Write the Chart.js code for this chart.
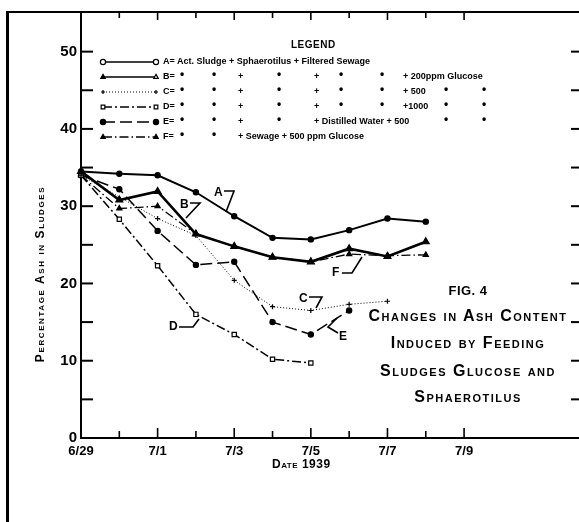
<!DOCTYPE html>
<html>
<head>
<meta charset="utf-8">
<script src="https://cdn.jsdelivr.net/npm/chart.js@4"></script>
<style>
  html, body { margin: 0; padding: 0; background: #fff; }
  #wrap { position: relative; width: 579px; height: 522px; overflow: hidden; font-family: "Liberation Sans", Arial, sans-serif; font-weight: bold; color: #000; }
  #c { position: absolute; left: 0; top: 0; }
  .frame { position: absolute; left: 6px; top: 11px; width: 600px; height: 600px; border-left: 3px solid #000; border-top: 2px solid #000; }
  .t { position: absolute; white-space: nowrap; line-height: 1; }
  .leg { font-size: 9px; }
  .dit { font-size: 12px; }
  .sc { font-variant: small-caps; }
  .fig { position: absolute; left: 360px; width: 216px; text-align: center; font-size: 16px; font-variant: small-caps; letter-spacing: 1.5px; line-height: 1; white-space: nowrap; }
  .lbl { font-size: 12px; }
  svg { position: absolute; left: 0; top: 0; }
</style>
</head>
<body>
<div id="wrap">
  <canvas id="c" width="579" height="522"></canvas>
  <div class="frame"></div>
  <svg width="579" height="522" id="ann"></svg>
</div>
<script>
// hari sejak 6/29 (0 = 6/29, 2 = 7/1, ...)
const days = [0, 1, 2, 3, 4, 5, 6, 7, 8, 9];
const dateLabels = ['6/29', '7/1', '7/3', '7/5', '7/7', '7/9'];
const yTickLabels = [0, 10, 20, 30, 40, 50];

// nilai persen abu
const ashA = [34.5, 34.2, 34.0, 31.8, 28.7, 25.9, 25.7, 26.9, 28.4, 28.0];
const ashB = [34.5, 30.8, 31.9, 26.4, 24.8, 23.4, 22.8, 24.5, 23.5, 25.4];
const ashC = [34.0, null, 28.4, 26.2, 20.4, 17.0, 16.5, 17.3, 17.7, null];
const ashD = [34.0, 28.3, 22.3, 16.0, 13.4, 10.2, 9.7, null, null, null];
const ashE = [34.0, 32.2, 26.8, 22.4, 22.8, 15.0, 13.4, 16.5, null, null];
const ashF = [34.0, 29.7, 30.0, 26.4, 24.8, 23.4, 22.8, 23.8, 23.6, 23.7];

function toPoints(vals) {
  return vals.map((v, i) => ({ x: days[i], y: v }));
}

const black = '#000';
const datasets = [
  { label: 'A', data: toPoints(ashA), borderWidth: 2, borderDash: [], pointStyle: 'circle', pointRadius: 2.6, pointBackgroundColor: black, legendOpen: true },
  { label: 'B', data: toPoints(ashB), borderWidth: 2.6, borderDash: [], pointStyle: 'triangle', pointRadius: 4, pointBackgroundColor: black, legendOpen: false },
  { label: 'C', data: toPoints(ashC), borderWidth: 1, borderDash: [1, 2], pointStyle: 'cross', pointRadius: 2.5, pointBackgroundColor: black, spanGaps: true, legendOpen: false },
  { label: 'D', data: toPoints(ashD), borderWidth: 1.5, borderDash: [9, 3, 2, 3], pointStyle: 'rect', pointRadius: 3, pointBackgroundColor: '#fff', legendOpen: true },
  { label: 'E', data: toPoints(ashE), borderWidth: 1.5, borderDash: [12, 5], pointStyle: 'circle', pointRadius: 2.6, pointBackgroundColor: black, legendOpen: false },
  { label: 'F', data: toPoints(ashF), borderWidth: 1.3, borderDash: [9, 3, 1.5, 3], pointStyle: 'triangle', pointRadius: 3, pointBackgroundColor: black, legendOpen: false }
].map(d => Object.assign({
  borderColor: black,
  pointBorderColor: black,
  pointBorderWidth: 1.2,
  tension: 0,
  fill: false,
  clip: 10
}, d));

// tick ke dalam di keempat sisi + contoh garis legenda
const frameTicks = {
  id: 'frameTicks',
  afterDraw(chart) {
    const ctx = chart.ctx;
    const xs = chart.scales.x, ys = chart.scales.y;
    const a = chart.chartArea;
    ctx.save();
    ctx.strokeStyle = black;
    ctx.setLineDash([]);
    // sumbu x: bawah dan atas
    for (let d = 1; d <= 10; d++) {
      const px = xs.getPixelForValue(d);
      const len = d % 2 === 0 ? 10 : 7;
      ctx.lineWidth = 1.6;
      ctx.beginPath(); ctx.moveTo(px, a.bottom); ctx.lineTo(px, a.bottom - len); ctx.stroke();
      ctx.beginPath(); ctx.moveTo(px, a.top); ctx.lineTo(px, a.top + (d % 2 === 0 ? 7 : 5)); ctx.stroke();
    }
    // sumbu y: kiri dan kanan
    for (let v = 5; v <= 50; v += 5) {
      const py = ys.getPixelForValue(v);
      ctx.lineWidth = 2;
      ctx.beginPath(); ctx.moveTo(a.left, py); ctx.lineTo(a.left + 12, py); ctx.stroke();
      ctx.beginPath(); ctx.moveTo(a.right, py); ctx.lineTo(a.right - 8, py); ctx.stroke();
    }
    // contoh garis legenda
    const rowY = [62, 77, 92, 107, 122, 137];
    chart.data.datasets.forEach((ds, i) => {
      const y = rowY[i], x0 = 103, x1 = 156;
      ctx.lineWidth = Math.min(ds.borderWidth, 1.6);
      ctx.setLineDash(ds.borderDash);
      ctx.beginPath(); ctx.moveTo(x0, y); ctx.lineTo(x1, y); ctx.stroke();
      ctx.setLineDash([]);
      ctx.lineWidth = 1.2;
      [x0, x1].forEach((x, k) => {
        ctx.fillStyle = (ds.legendOpen || (ds.label === 'B' && k === 1)) ? '#fff' : black;
        Chart.helpers.drawPoint(ctx, { pointStyle: ds.pointStyle, radius: ds.pointStyle === 'cross' ? 2 : 2.6, rotation: 0, borderWidth: 1.2 }, x, y);
      });
    });
    ctx.restore();
  }
};

const tickFont = { family: '"Liberation Sans", Arial, sans-serif', size: 13, weight: 'bold' };

new Chart(document.getElementById('c').getContext('2d'), {
  type: 'line',
  data: { datasets: datasets },
  options: {
    responsive: false,
    animation: false,
    layout: { autoPadding: false, padding: { left: 0, top: 13, right: 0, bottom: 0 } },
    plugins: { legend: { display: false }, tooltip: { enabled: false } },
    scales: {
      x: {
        type: 'linear', min: 0, max: 13,
        afterFit: s => { s.height = 84; s.paddingLeft = 0; s.paddingRight = 0; },
        grid: { display: false, drawTicks: false },
        border: { display: true, color: black, width: 2 },
        ticks: {
          stepSize: 2, padding: 6, color: black, font: tickFont, maxRotation: 0, autoSkip: false,
          callback: v => dateLabels[v / 2] || ''
        }
      },
      y: {
        min: 0, max: 55,
        afterFit: s => { s.width = 81; },
        grid: { display: false, drawTicks: false },
        border: { display: true, color: black, width: 2 },
        ticks: {
          stepSize: 10, padding: 4, color: black, font: { family: tickFont.family, size: 15, weight: 'bold' },
          callback: v => yTickLabels.includes(v) ? v : ''
        }
      }
    }
  },
  plugins: [frameTicks]
});

// teks legenda, judul, label kurva
const wrap = document.getElementById('wrap');
function addText(txt, x, y, cls, extra) {
  const el = document.createElement('div');
  el.className = 't ' + (cls || '');
  el.textContent = txt;
  el.style.left = x + 'px';
  el.style.top = y + 'px';
  if (extra) Object.assign(el.style, extra);
  wrap.appendChild(el);
  return el;
}

addText('LEGEND', 291, 40, 'leg', { fontSize: '10px', letterSpacing: '0.5px' });
const legRowTop = [57, 72, 87, 102, 117, 132];
const dittoFull = [183, 215, 280, 342, 383];
const dittoShort = [183, 215, 280];
const dittoTail = [447, 485];
function dittos(row, xs) {
  xs.forEach(x => addText('•', x - 3, legRowTop[row] - 4, 'dit'));
}
addText('A= Act.  Sludge + Sphaerotilus + Filtered Sewage', 163, legRowTop[0], 'leg');
['B=', 'C=', 'D='].forEach((t, k) => {
  const r = k + 1;
  addText(t, 163, legRowTop[r], 'leg');
  dittos(r, dittoFull);
  addText('+', 238, legRowTop[r], 'leg');
  addText('+', 314, legRowTop[r], 'leg');
});
addText('+ 200ppm  Glucose', 403, legRowTop[1], 'leg');
addText('+ 500', 403, legRowTop[2], 'leg'); dittos(2, dittoTail);
addText('+1000', 403, legRowTop[3], 'leg'); dittos(3, dittoTail);
addText('E=', 163, legRowTop[4], 'leg'); dittos(4, dittoShort);
addText('+', 238, legRowTop[4], 'leg');
addText('+ Distilled Water + 500', 314, legRowTop[4], 'leg'); dittos(4, dittoTail);
addText('F=', 163, legRowTop[5], 'leg'); dittos(5, [183, 215]);
addText('+ Sewage + 500 ppm  Glucose', 238, legRowTop[5], 'leg');

// judul gambar
const figLines = ['Fig. 4', 'Changes in Ash Content', 'Induced by Feeding', 'Sludges Glucose and', 'Sphaerotilus'];
const figTops = [284, 308, 335, 363, 389];
figLines.forEach((t, i) => {
  const el = document.createElement('div');
  el.className = 'fig';
  el.textContent = i === 0 ? t.toUpperCase() : t;
  el.style.top = figTops[i] + 'px';
  if (i === 0) { el.style.fontSize = '13px'; el.style.letterSpacing = '0.5px'; }
  wrap.appendChild(el);
});

// judul sumbu
addText('Date 1939', 272, 458, 'sc', { fontSize: '12px', letterSpacing: '0.5px' });
addText('Percentage Ash in Sludges', 40, 274, 'sc', { fontSize: '12px', letterSpacing: '1.6px', transform: 'translate(-50%,-50%) rotate(-90deg)' });

// label kurva
const curveLabels = [['A', 214, 186], ['B', 180, 198], ['C', 299, 292], ['D', 169, 320], ['E', 339, 330], ['F', 332, 266]];
curveLabels.forEach(l => addText(l[0], l[1], l[2], 'lbl'));

const leaders = [
  [[224, 191], [234, 191], [226, 212]],
  [[190, 203], [200, 203], [186, 218]],
  [[309, 297], [322, 297], [316, 308]],
  [[179, 327], [193, 327], [199, 319]],
  [[338, 333], [328, 327], [337, 318]],
  [[342, 273], [352, 273], [362, 257]]
];
const svg = document.getElementById('ann');
leaders.forEach(p => {
  const pl = document.createElementNS('http://www.w3.org/2000/svg', 'polyline');
  pl.setAttribute('points', p.map(q => q.join(',')).join(' '));
  pl.setAttribute('fill', 'none');
  pl.setAttribute('stroke', '#000');
  pl.setAttribute('stroke-width', '1.6');
  svg.appendChild(pl);
});
</script>
</body>
</html>
